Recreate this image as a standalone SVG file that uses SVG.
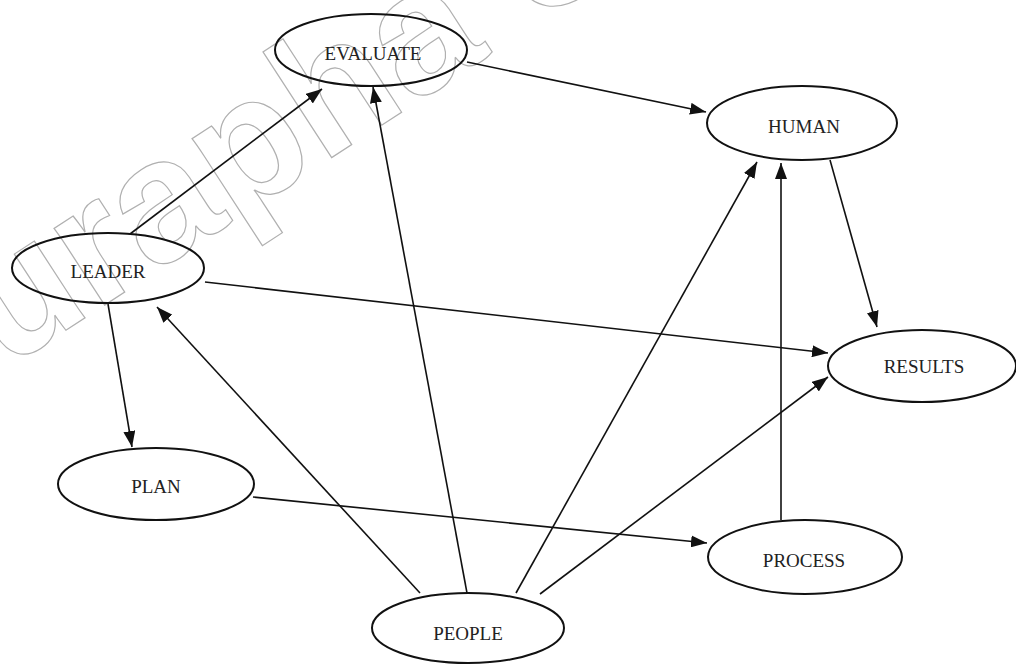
<svg xmlns="http://www.w3.org/2000/svg" width="1016" height="664" viewBox="0 0 1016 664">
  <style>
    .node ellipse { fill: none; stroke: #111; stroke-width: 2; }
    .node text { font-family: "Liberation Serif", "Times New Roman", serif; font-size: 19px; fill: #222; text-anchor: middle; }
    .edge { stroke: #111; stroke-width: 1.6; fill: none; marker-end: url(#arrow); }
    .wm { font-family: "Liberation Sans", Arial, sans-serif; font-weight: bold; font-size: 174px; fill: none; stroke: #b0b0b0; stroke-width: 1.2; }
  </style>
  <defs>
    <marker id="arrow" markerUnits="userSpaceOnUse" markerWidth="16" markerHeight="12" refX="16" refY="6" orient="auto">
      <path d="M0,0 L16,6 L0,12 z" fill="#111"/>
    </marker>
  </defs>
  <rect width="1016" height="664" fill="#fff"/>
  <text class="wm" x="-100" y="438" transform="rotate(-33 -100 438)">Burapha Univ</text>
  <g id="connectors">
    <line class="edge" x1="130" y1="234" x2="322" y2="89"/>
    <line class="edge" x1="467" y1="593" x2="373" y2="87"/>
    <line class="edge" x1="467" y1="62" x2="706" y2="112"/>
    <line class="edge" x1="205" y1="282" x2="828" y2="353"/>
    <line class="edge" x1="108" y1="304" x2="132" y2="447"/>
    <line class="edge" x1="420" y1="593" x2="157" y2="307"/>
    <line class="edge" x1="253" y1="497" x2="707" y2="543"/>
    <line class="edge" x1="516" y1="593" x2="757" y2="162"/>
    <line class="edge" x1="540" y1="594" x2="828" y2="377"/>
    <line class="edge" x1="781" y1="520" x2="781" y2="163"/>
    <line class="edge" x1="830" y1="160" x2="877" y2="327"/>
  </g>
  <g id="node-evaluate" class="node"><ellipse cx="371" cy="50" rx="96" ry="36"/><text x="373" y="60">EVALUATE</text></g>
  <g id="node-human" class="node"><ellipse cx="802" cy="123" rx="95" ry="37"/><text x="804" y="133">HUMAN</text></g>
  <g id="node-leader" class="node"><ellipse cx="108" cy="268" rx="96" ry="35"/><text x="108" y="278">LEADER</text></g>
  <g id="node-results" class="node"><ellipse cx="922" cy="366" rx="94" ry="36"/><text x="924" y="373">RESULTS</text></g>
  <g id="node-plan" class="node"><ellipse cx="156" cy="484" rx="98" ry="36"/><text x="156" y="493">PLAN</text></g>
  <g id="node-process" class="node"><ellipse cx="805" cy="557" rx="97" ry="37"/><text x="804" y="567">PROCESS</text></g>
  <g id="node-people" class="node"><ellipse cx="468" cy="628" rx="96" ry="35"/><text x="468" y="640">PEOPLE</text></g>
</svg>
